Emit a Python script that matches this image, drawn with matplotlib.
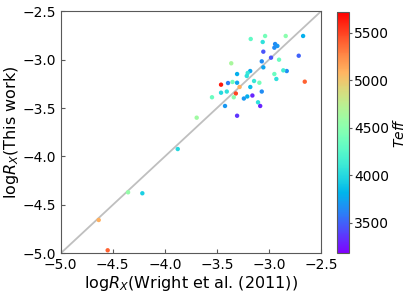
#!/usr/bin/env python3
"""X-ray activity: this work vs Wright et al. (2011), coloured by Teff."""

import numpy as np
import matplotlib
matplotlib.use("Agg")
import matplotlib.pyplot as plt

# log R_X from Wright et al. (2011)
logrx_wright = [
    -2.672, -2.839, -3.037, -3.175, -3.060, -2.941, -2.919, -2.948, -3.054, -2.714,
    -2.980, -2.903, -3.069, -3.362, -3.054, -3.180, -2.829, -2.862, -3.306, -3.204,
    -2.948, -3.213, -2.929, -3.350, -3.143, -3.306, -3.393, -3.092, -3.460, -2.656,
    -3.179, -3.282, -3.405, -3.460, -3.069, -3.318, -3.547, -3.338, -3.159, -3.208,
    -3.241, -3.105, -3.422, -3.084, -3.306, -3.694, -3.876, -4.353, -4.216, -4.635,
    -4.549,
]
# log R_X from this work
logrx_this = [
    -2.755, -2.755, -2.755, -2.786, -2.817, -2.838, -2.858, -2.876, -2.917, -2.959,
    -2.979, -3.000, -3.017, -3.037, -3.079, -3.117, -3.117, -3.110, -3.148, -3.137,
    -3.148, -3.168, -3.199, -3.230, -3.220, -3.238, -3.241, -3.238, -3.258, -3.227,
    -3.282, -3.282, -3.329, -3.341, -3.329, -3.349, -3.388, -3.388, -3.370, -3.380,
    -3.401, -3.440, -3.478, -3.478, -3.579, -3.599, -3.923, -4.370, -4.380, -4.656,
    -4.969,
]
teff = [
    3800, 4500, 4400, 4300, 4050, 3650, 3700, 3650, 3450, 3500,
    3450, 4350, 3650, 4650, 3750, 3750, 3650, 4150, 3800, 4100,
    4350, 4050, 4050, 4400, 4100, 3750, 3600, 4400, 5650, 5400,
    3850, 5100, 4050, 4000, 3650, 5500, 4350, 4500, 3300, 3800,
    3700, 4050, 3700, 3300, 3350, 4600, 4000, 4550, 3950, 5100,
    5400,
]

TEFF_MIN, TEFF_MAX = 3180, 5720
EDGE = "0.35"

fig = plt.figure(figsize=(4.15, 2.96), dpi=100)
ax = fig.add_axes([0.1463, 0.1443, 0.6272, 0.8175])
cax = fig.add_axes([0.8113, 0.1443, 0.0296, 0.8152])

ax.plot([-5, -2.5], [-5, -2.5], color="0.75", lw=1.3, zorder=1)
sc = ax.scatter(logrx_wright, logrx_this, c=teff, cmap="rainbow",
                vmin=TEFF_MIN, vmax=TEFF_MAX, s=10, linewidths=0, zorder=2)

ax.set_xlim(-5, -2.5)
ax.set_ylim(-5, -2.5)
ax.set_xticks(np.arange(-5, -2.49, 0.5))
ax.set_yticks(np.arange(-5, -2.49, 0.5))
ax.tick_params(direction="in", length=3, labelsize=10, color=EDGE)
for sp in ax.spines.values():
    sp.set_color(EDGE)
ax.set_xlabel("log$R_X$(Wright et al. (2011))", fontsize=11.5, labelpad=1)
ax.set_ylabel("log$R_X$(This work)", fontsize=11.5, labelpad=1)

cb = fig.colorbar(sc, cax=cax)
cb.set_ticks([3500, 4000, 4500, 5000, 5500])
cb.ax.tick_params(direction="out", length=2, labelsize=10, color=EDGE, pad=1.5)
cb.outline.set_edgecolor(EDGE)
cb.set_label("$Teff$", fontsize=10, labelpad=2)

fig.savefig("out.png", dpi=100)
